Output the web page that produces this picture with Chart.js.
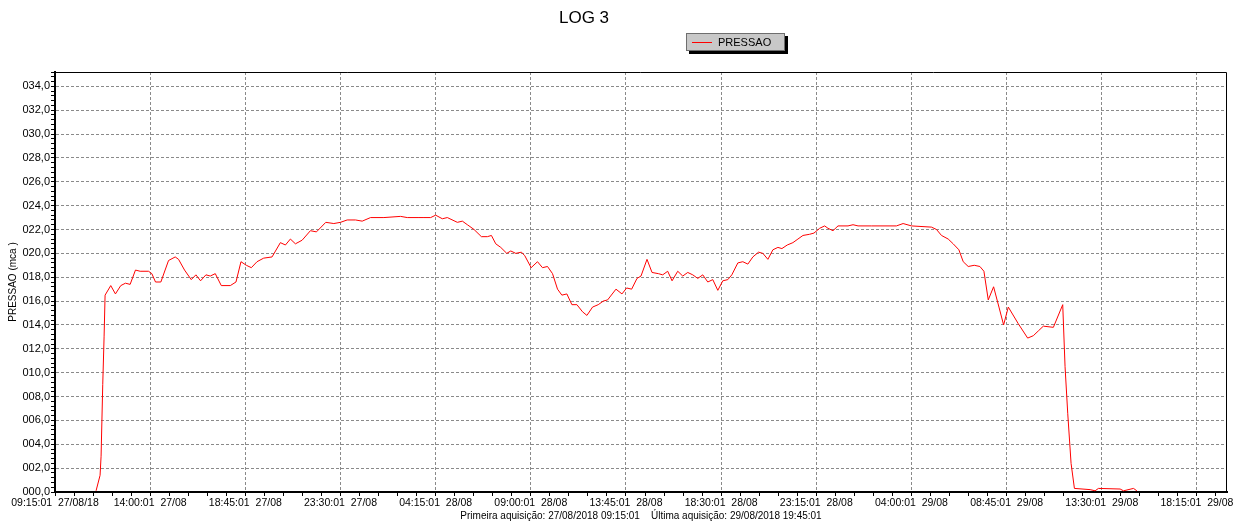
<!DOCTYPE html>
<html>
<head>
<meta charset="utf-8">
<title>LOG 3</title>
<script src="https://cdn.jsdelivr.net/npm/chart.js@4.4.1/dist/chart.umd.min.js"></script>
<style>
  html, body { margin: 0; padding: 0; background: #fff; }
  #grafico { display: block; }
</style>
</head>
<body>
<canvas id="grafico" width="1239" height="524"></canvas>
<script>
// minutos contados a partir da primeira aquisicao (27/08/2018 09:15:01)
var minutos = [
    123, 135, 138, 143, 147, 150,
    167, 181, 197, 211, 225, 241, 255, 280, 290, 301, 317, 340, 360, 370, 388, 408, 422, 436, 452, 465,
    480, 498, 525, 542, 557, 573, 588, 605, 625, 650, 675, 690, 705, 720, 740, 765, 783, 811, 835, 855,
    875, 900, 920, 945, 985, 1035, 1055, 1090, 1105, 1125, 1140, 1160, 1175, 1205, 1220,
    1235, 1255, 1277, 1295, 1307, 1320, 1335, 1353, 1365, 1380, 1397, 1407, 1426, 1445, 1460, 1475,
    1490, 1505, 1518, 1533, 1548, 1563, 1580, 1593, 1610, 1627, 1642, 1655, 1680, 1698, 1712, 1727,
    1743, 1755, 1773, 1788, 1807, 1820, 1835, 1848, 1865, 1880, 1895, 1910, 1925, 1940, 1955, 1970,
    1985, 2000, 2015, 2027, 2045, 2060, 2075, 2090, 2107, 2120, 2135, 2150, 2165, 2177, 2193, 2210,
    2225, 2240, 2260, 2273, 2290, 2305, 2315, 2330, 2345, 2360, 2375, 2390, 2405,
    2445, 2520, 2540, 2565, 2625, 2640, 2655, 2675, 2690, 2707, 2720, 2735, 2753, 2770, 2782, 2795,
    2811, 2827, 2841, 2855, 2885, 2913, 2930, 2945, 2960, 2990, 3018, 3025, 3033, 3043, 3053, 3100,
    3115, 3125, 3190, 3200, 3230, 3240
];

// PRESSAO (mca)
var pressao = [
    0.1, 1.4, 3.0, 9.0, 13.0, 16.5,
    17.3, 16.6, 17.3, 17.5, 17.4, 18.6, 18.5, 18.5, 18.3, 17.6, 17.6, 19.4, 19.7, 19.5, 18.6, 17.8, 18.2, 17.7, 18.2, 18.1,
    18.3, 17.3, 17.3, 17.6, 19.3, 19.0, 18.8, 19.3, 19.6, 19.7, 20.9, 20.7, 21.2, 20.8, 21.1, 21.9, 21.8, 22.6, 22.5, 22.6,
    22.8, 22.8, 22.7, 23.0, 23.0, 23.1, 23.0, 23.0, 23.0, 23.0, 23.2, 22.9, 23.0, 22.6, 22.7,
    22.4, 22.0, 21.4, 21.4, 21.5, 20.8, 20.5, 20.0, 20.2, 20.0, 20.1, 19.8, 18.8, 19.3, 18.8, 18.9,
    18.3, 17.0, 16.5, 16.6, 15.7, 15.7, 15.1, 14.8, 15.5, 15.7, 16.0, 16.1, 17.0, 16.6, 17.1, 17.0,
    17.9, 18.1, 19.5, 18.4, 18.3, 18.2, 18.5, 17.7, 18.5, 18.1, 18.4, 18.2, 17.9, 18.2, 17.6, 17.8,
    16.9, 17.7, 17.8, 18.2, 19.2, 19.3, 19.1, 19.7, 20.1, 20.0, 19.5, 20.3, 20.5, 20.4, 20.7, 20.9,
    21.2, 21.5, 21.6, 21.7, 22.1, 22.3, 22.1, 21.9, 22.3, 22.3, 22.3, 22.4, 22.3,
    22.3, 22.3, 22.5, 22.3, 22.2, 22.0, 21.5, 21.2, 20.8, 20.3, 19.3, 18.9, 19.0, 18.9, 18.5, 16.1,
    17.2, 15.5, 14.0, 15.5, 14.1, 12.9, 13.1, 13.5, 13.9, 13.8, 15.7, 10.5, 6.6, 2.4, 0.3, 0.2,
    0.1, 0.3, 0.25, 0.1, 0.3, 0.1
];

// rotulos do eixo X, um a cada 4h45
var rotulosX = [
    '09:15:01  27/08/18', '14:00:01  27/08', '18:45:01  27/08', '23:30:01  27/08',
    '04:15:01  28/08', '09:00:01  28/08', '13:45:01  28/08', '18:30:01  28/08',
    '23:15:01  28/08', '04:00:01  29/08', '08:45:01  29/08', '13:30:01  29/08',
    '18:15:01  29/08'
];

var passoRotulo = 285;   // minutos entre rotulos
var fimMinutos = 3510;   // 29/08/2018 19:45:01
var rodape = 'Primeira aquisição: 27/08/2018 09:15:01    Última aquisição: 29/08/2018 19:45:01';

var fonte = '"Liberation Sans", Arial, sans-serif';

function ehMaiorY(v) {
    return Math.abs(v / 2 - Math.round(v / 2)) < 1e-6;
}

// titulo, legenda e moldura do grafico
var cabecalho = {
    id: 'cabecalho',
    afterDraw: function (chart) {
        var ctx = chart.ctx;
        var a = chart.chartArea;
        ctx.save();

        ctx.strokeStyle = '#000';
        ctx.lineWidth = 1;
        ctx.beginPath();
        ctx.moveTo(a.left, a.top + 0.5);
        ctx.lineTo(a.right - 0.5, a.top + 0.5);
        ctx.lineTo(a.right - 0.5, a.bottom);
        ctx.stroke();

        ctx.fillStyle = '#000';
        ctx.font = '17px ' + fonte;
        ctx.textAlign = 'center';
        ctx.textBaseline = 'middle';
        ctx.fillText('LOG 3', 584, 18);

        // caixa da legenda com sombra
        ctx.fillStyle = '#000';
        ctx.fillRect(689, 36, 99, 18);
        ctx.fillStyle = '#c8c8c8';
        ctx.fillRect(686, 33, 99, 18);
        ctx.strokeStyle = '#6e6e6e';
        ctx.strokeRect(686.5, 33.5, 98, 17);
        ctx.strokeStyle = '#ff0000';
        ctx.beginPath();
        ctx.moveTo(692, 42.5);
        ctx.lineTo(712, 42.5);
        ctx.stroke();
        ctx.fillStyle = '#000';
        ctx.font = '11px ' + fonte;
        ctx.textAlign = 'left';
        ctx.fillText(chart.data.datasets[0].label, 718, 42.5);

        ctx.restore();
    }
};

var ctx = document.getElementById('grafico').getContext('2d');
var grafico = new Chart(ctx, {
    type: 'line',
    data: {
        datasets: [{
            label: 'PRESSAO',
            data: minutos.map(function (m, i) { return { x: m, y: pressao[i] }; }),
            borderColor: '#ff0000',
            borderWidth: 1,
            pointRadius: 0,
            tension: 0,
            fill: false
        }]
    },
    options: {
        responsive: false,
        animation: false,
        events: [],
        layout: { padding: { top: 72, right: 12, left: 0, bottom: 0 } },
        plugins: {
            legend: { display: false },
            title: { display: false },
            tooltip: { enabled: false }
        },
        scales: {
            x: {
                type: 'linear',
                min: 0,
                max: fimMinutos,
                afterBuildTicks: function (scale) {
                    var t = [];
                    for (var v = 0; v <= fimMinutos; v += passoRotulo / 5) t.push({ value: v });
                    scale.ticks = t;
                },
                afterFit: function (scale) { scale.height = 32; },
                ticks: {
                    autoSkip: false,
                    maxRotation: 0,
                    minRotation: 0,
                    padding: 1,
                    color: '#000',
                    font: { family: fonte, size: 10.5 },
                    callback: function (v) {
                        return v % passoRotulo === 0 ? rotulosX[v / passoRotulo] : '';
                    }
                },
                grid: {
                    color: function (c) {
                        return c.tick && c.tick.value % passoRotulo === 0 ? '#8a8a8a' : 'rgba(0,0,0,0)';
                    },
                    lineWidth: 1,
                    tickColor: '#000',
                    tickLength: 4,
                    tickBorderDash: []
                },
                border: { color: '#000', width: 2, dash: [3, 2] },
                title: {
                    display: true,
                    text: rodape,
                    color: '#000',
                    font: { family: fonte, size: 10 },
                    padding: { top: 0, bottom: 2 }
                }
            },
            y: {
                min: 0,
                max: 35.2,
                afterBuildTicks: function (scale) {
                    var t = [];
                    for (var i = 0; i <= 88; i++) t.push({ value: i * 4 / 10 });
                    scale.ticks = t;
                },
                afterFit: function (scale) { scale.width = 55; },
                ticks: {
                    autoSkip: false,
                    padding: 1,
                    color: '#000',
                    font: { family: fonte, size: 11 },
                    callback: function (v) {
                        if (!ehMaiorY(v)) return '';
                        return String(Math.round(v)).padStart(3, '0') + ',0';
                    }
                },
                grid: {
                    color: function (c) {
                        return c.tick && ehMaiorY(c.tick.value) ? '#8a8a8a' : 'rgba(0,0,0,0)';
                    },
                    lineWidth: 1,
                    tickColor: '#000',
                    tickLength: 4,
                    tickBorderDash: []
                },
                border: { color: '#000', width: 2, dash: [3, 2] },
                title: {
                    display: true,
                    text: 'PRESSAO (mca )',
                    color: '#000',
                    font: { family: fonte, size: 10 },
                    padding: { top: 7, bottom: 0 }
                }
            }
        }
    },
    plugins: [cabecalho]
});
</script>
</body>
</html>
